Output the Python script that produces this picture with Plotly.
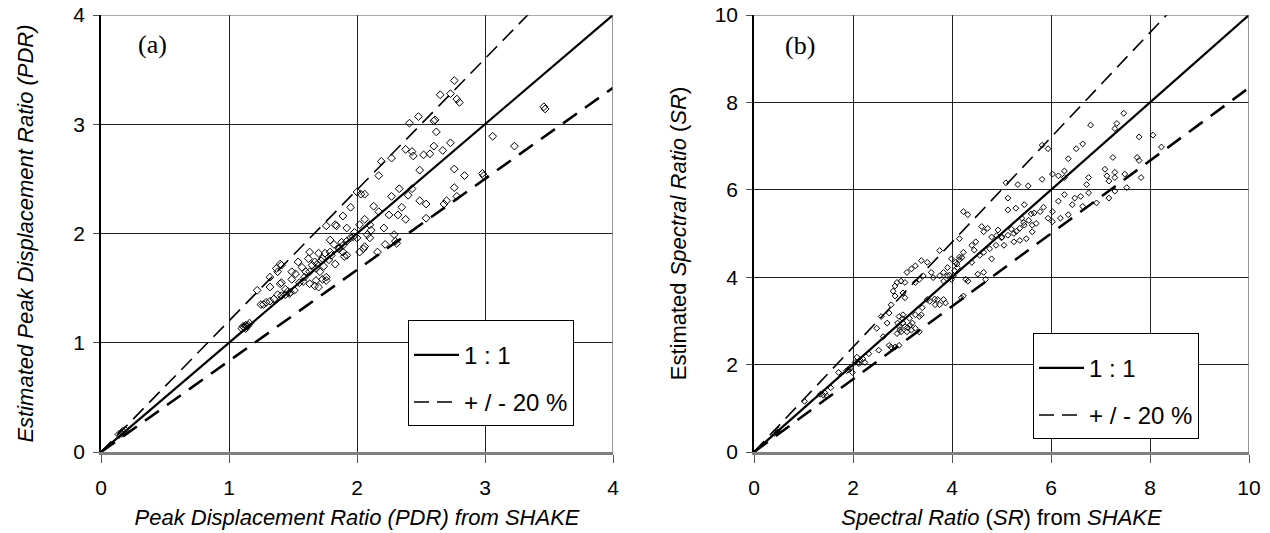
import plotly.graph_objects as go

# ---------------- data: panel (a) PDR ----------------
pdr_shake = [2.76, 2.65, 2.73, 2.78, 2.80, 2.41, 2.48, 2.60, 2.61, 2.62, 2.73, 3.46, 3.47, 3.06, 3.23,
             2.38, 2.43, 2.44, 2.52, 2.57, 2.60, 2.67, 2.19, 2.27, 2.17, 2.49, 2.76, 2.84, 2.98, 2.99,
             2.00, 2.03, 2.06, 2.33, 2.43, 2.40, 2.27, 2.49, 2.54, 2.70, 2.68, 2.76, 2.78,
             1.95, 2.13, 2.17, 2.35, 2.25, 2.32, 2.38, 2.54, 2.21, 2.29, 2.22, 2.30, 2.31, 2.16,
             1.89, 1.76, 1.83, 1.84, 1.92, 2.02, 2.06, 2.10, 2.11, 2.08, 2.00, 1.95, 1.92, 1.89,
             1.79, 1.86, 1.89, 1.90, 1.92, 2.02, 2.05, 2.06, 2.10, 1.79, 1.75, 1.73, 1.70, 1.83,
             1.63, 1.62, 1.67, 1.65, 1.68, 1.63, 1.54, 1.57, 1.60, 1.59, 1.52, 1.49, 1.49,
             1.41, 1.40, 1.37, 1.38, 1.32, 1.41, 1.40, 1.32, 1.22, 1.63, 1.67, 1.68, 1.73, 1.76,
             1.76, 1.70, 1.44, 1.48, 1.51, 1.44, 1.41, 1.38, 1.35, 1.32, 1.29, 1.27, 1.25,
             1.13, 1.11, 1.13, 1.14, 1.10, 1.16, 1.12, 1.15, 0.17, 0.16, 0.14, 0.19,
             1.80, 1.82, 1.86, 1.88, 1.97, 1.98, 1.72, 1.74, 1.78, 1.71, 1.69, 1.55, 1.58, 1.46, 1.47]
pdr_est = [3.40, 3.27, 3.28, 3.23, 3.20, 3.01, 3.07, 3.03, 3.04, 2.93, 2.83, 3.16, 3.14, 2.89, 2.80,
           2.77, 2.75, 2.71, 2.72, 2.73, 2.80, 2.76, 2.66, 2.69, 2.53, 2.58, 2.59, 2.53, 2.55, 2.53,
           2.38, 2.36, 2.36, 2.41, 2.41, 2.35, 2.34, 2.30, 2.27, 2.30, 2.27, 2.42, 2.34,
           2.24, 2.25, 2.20, 2.24, 2.17, 2.17, 2.13, 2.14, 2.05, 1.99, 1.90, 1.93, 1.91, 1.83,
           2.16, 2.07, 2.08, 2.07, 2.05, 2.08, 2.13, 2.08, 2.03, 1.99, 1.96, 1.96, 1.93, 1.89,
           1.94, 1.86, 1.83, 1.79, 1.80, 1.83, 1.86, 1.88, 1.96, 1.83, 1.82, 1.77, 1.82, 1.72,
           1.83, 1.77, 1.74, 1.71, 1.68, 1.65, 1.74, 1.69, 1.65, 1.60, 1.63, 1.65, 1.58,
           1.71, 1.72, 1.68, 1.65, 1.60, 1.55, 1.54, 1.51, 1.48, 1.54, 1.52, 1.57, 1.58, 1.57,
           1.60, 1.51, 1.49, 1.46, 1.48, 1.44, 1.43, 1.44, 1.40, 1.38, 1.37, 1.35, 1.35,
           1.16, 1.15, 1.13, 1.15, 1.13, 1.18, 1.14, 1.16, 0.19, 0.17, 0.16, 0.20,
           1.80, 1.90, 1.87, 1.92, 1.97, 2.01, 1.75, 1.70, 1.76, 1.65, 1.72, 1.55, 1.56, 1.47, 1.45]

# ---------------- data: panel (b) SR ----------------
sr_shake = [7.47, 7.33, 7.29, 6.80, 6.64, 6.51, 5.94, 5.82, 6.35, 6.03, 6.15, 6.27, 6.27, 5.82,
            7.78, 8.06, 8.23, 7.25, 7.74, 7.78, 7.82, 7.09, 7.13, 7.29, 7.29, 7.17, 7.49, 7.53, 7.29, 7.17,
            6.76, 6.72, 6.76, 6.60, 6.92, 6.64, 6.27, 6.15, 6.48, 6.43, 6.35, 6.19, 6.03, 6.03, 5.94,
            5.78, 5.66, 5.46, 5.29, 5.13, 5.09, 5.33, 5.54, 5.13, 4.23, 4.32, 4.60, 4.64, 4.72, 4.80,
            4.93, 5.01, 5.13, 5.25, 5.37, 5.46, 5.41, 5.62, 5.62, 5.70, 5.50, 5.37, 5.25, 5.05, 4.89,
            4.76, 4.64, 4.48, 4.40, 4.15, 4.23, 4.56, 4.40, 4.80, 4.64, 4.52, 4.68, 4.15, 4.07, 4.11,
            3.99, 3.91, 3.83, 3.75, 3.50, 3.38, 3.26, 3.18, 3.09, 3.05, 2.97, 2.89, 2.85, 2.81, 2.85,
            3.01, 3.05, 3.26, 3.34, 3.42, 3.58, 3.62, 3.75, 3.91, 3.83, 3.99, 4.03, 4.32, 4.28,
            3.50, 3.71, 3.83, 3.87, 3.66, 3.75, 4.19, 4.23, 2.77, 2.73, 2.93, 3.01, 3.14, 3.26, 3.34,
            3.38, 3.01, 2.93, 3.05, 3.09, 3.18, 3.26, 3.34, 2.89, 2.97, 2.69, 2.57, 2.48, 2.61, 2.73,
            2.77, 2.85, 2.93, 2.52, 2.32, 2.20, 2.08, 2.04, 1.95, 1.87, 1.99, 2.12, 2.24, 1.71, 1.43,
            1.34, 1.47, 1.55, 1.02, 0.49, 0.45, 0.41,
            4.05, 4.10, 4.15, 3.95, 4.20, 4.45, 4.90, 5.00, 5.20, 5.30, 5.45, 5.55, 5.60, 5.85, 3.10,
            3.20, 3.15, 2.95, 3.00, 2.90, 3.40, 3.55, 3.65, 2.10, 2.15, 1.90, 1.40, 0.47]
sr_est = [7.75, 7.52, 7.40, 7.48, 7.05, 6.94, 6.94, 7.02, 6.71, 6.36, 6.32, 6.43, 6.28, 6.24,
          7.21, 7.25, 6.98, 6.74, 6.74, 6.67, 6.28, 6.47, 6.32, 6.40, 6.28, 6.20, 6.36, 6.05, 5.97, 5.81,
          6.28, 6.12, 5.93, 5.85, 5.70, 5.62, 5.89, 5.74, 5.81, 5.66, 5.43, 5.35, 5.50, 5.27, 5.35,
          5.50, 5.47, 5.66, 5.58, 5.54, 6.16, 6.12, 6.09, 5.81, 5.50, 5.43, 5.16, 5.04, 5.12, 4.92,
          5.08, 4.92, 4.96, 5.00, 5.12, 5.19, 5.35, 5.19, 5.04, 5.23, 4.88, 4.84, 4.81, 4.73, 4.73,
          4.65, 4.57, 4.81, 4.73, 4.88, 4.57, 4.50, 4.34, 4.42, 4.11, 4.07, 3.95, 4.46, 4.34, 4.22,
          4.42, 4.22, 4.11, 4.61, 4.34, 4.38, 4.26, 4.19, 4.11, 3.88, 3.91, 3.88, 3.80, 3.68, 3.57,
          3.64, 3.53, 3.88, 3.95, 4.03, 4.11, 3.99, 4.03, 4.03, 3.91, 3.95, 4.03, 3.91, 3.95,
          3.49, 3.49, 3.49, 3.41, 3.37, 3.37, 3.53, 3.57, 3.37, 3.18, 3.10, 3.14, 3.06, 3.14, 3.10,
          3.14, 2.95, 2.87, 2.87, 2.75, 2.79, 2.83, 2.75, 2.71, 2.75, 2.95, 3.10, 2.83, 2.64, 2.44,
          2.40, 2.40, 2.44, 2.33, 2.25, 2.13, 2.17, 2.05, 1.94, 1.86, 1.82, 2.02, 2.05, 1.82, 1.36,
          1.32, 1.28, 1.47, 1.16, 0.50, 0.47, 0.43,
          4.15, 4.30, 4.40, 4.05, 4.45, 4.62, 4.95, 4.90, 5.10, 5.05, 5.25, 5.30, 5.45, 5.60, 2.85,
          2.95, 2.90, 2.80, 3.05, 2.95, 3.30, 3.45, 3.50, 2.05, 2.10, 1.88, 1.30, 0.45]

# reference lines
a_line_x = [0, 4]
b_line_x = [0, 10]
ratio_upper = 1.2
ratio_lower = 1 / 1.2

a_ticks = [0, 1, 2, 3, 4]
b_ticks = [0, 2, 4, 6, 8, 10]

FONT = "Liberation Sans, Arial, sans-serif"

# full window figure (page body margin removed in post_script)
W, H = 1270, 533


def fx(px):
    return px / W


def fy(py):
    return (H - py) / H


fig = go.Figure()


def add_panel(xs, ys, line_x, xa, ya, legend, msize):
    fig.add_trace(go.Scatter(x=xs, y=ys, mode="markers", xaxis=xa, yaxis=ya,
                             marker=dict(symbol="diamond-open", size=msize, color="black",
                                         line=dict(width=1, color="black")),
                             showlegend=False, cliponaxis=False))
    fig.add_trace(go.Scatter(x=line_x, y=line_x, mode="lines", xaxis=xa, yaxis=ya,
                             line=dict(color="black", width=2.2), name="1 : 1",
                             legend=legend, legendgroup="a"))
    fig.add_trace(go.Scatter(x=line_x, y=[v * ratio_upper for v in line_x], mode="lines",
                             xaxis=xa, yaxis=ya,
                             line=dict(color="black", width=1.6, dash="15px,8px"),
                             name="+ / - 20 %", legend=legend, legendgroup="b"))
    fig.add_trace(go.Scatter(x=line_x, y=[v * ratio_lower for v in line_x], mode="lines",
                             xaxis=xa, yaxis=ya,
                             line=dict(color="black", width=2.6, dash="17px,10px"),
                             showlegend=False))


add_panel(pdr_shake, pdr_est, a_line_x, "x", "y", "legend", 6)
add_panel(sr_shake, sr_est, b_line_x, "x2", "y2", "legend2", 4.5)

ydom = [fy(452), fy(15)]
common_x = dict(showgrid=True, gridcolor="#222", gridwidth=1, zeroline=False,
                showline=True, linecolor="#808080", linewidth=3,
                ticks="outside", ticklen=8, tickcolor="#555", tickwidth=1,
                tickfont=dict(family=FONT, size=21, color="black"),
                ticklabelstandoff=7, ticklabeloverflow="allow", automargin=False)
common_y = dict(showgrid=True, gridcolor="#222", gridwidth=1, zeroline=False,
                showline=True, linecolor="black", linewidth=1.5,
                ticks="outside", ticklen=6, tickcolor="#555", tickwidth=1,
                tickfont=dict(family=FONT, size=21, color="black"),
                ticklabelstandoff=4, ticklabeloverflow="allow", automargin=False)

legend_common = dict(xanchor="left", yanchor="top",
                     bordercolor="black", borderwidth=1, bgcolor="white",
                     font=dict(family=FONT, size=24, color="black"), tracegroupgap=13,
                     itemwidth=45,
                     title=dict(text=" ", font=dict(family=FONT, size=9)))

fig.update_layout(
    width=W, height=H,
    margin=dict(l=0, r=0, t=0, b=0),
    paper_bgcolor="white", plot_bgcolor="white",
    font=dict(family=FONT, color="black"),
    xaxis=dict(common_x, domain=[fx(101), fx(613)], range=[0, 4], tickvals=a_ticks,
               anchor="y",
               title=dict(text="<i>Peak Displacement Ratio (PDR) from SHAKE</i>",
                          font=dict(family=FONT, size=22), standoff=12)),
    yaxis=dict(common_y, domain=ydom, range=[0, 4], tickvals=a_ticks, anchor="x",
               title=dict(text="<i>Estimated Peak Displacement Ratio (PDR)</i>",
                          font=dict(family=FONT, size=22), standoff=34)),
    xaxis2=dict(common_x, domain=[fx(754), fx(1249)], range=[0, 10], tickvals=b_ticks,
                anchor="y2",
                title=dict(text="<i>Spectral Ratio</i> (<i>SR</i>) from <i>SHAKE</i>",
                           font=dict(family=FONT, size=22), standoff=12)),
    yaxis2=dict(common_y, domain=ydom, range=[0, 10], tickvals=b_ticks, anchor="x2",
                title=dict(text="Estimated <i>Spectral Ratio</i> (<i>SR</i>)",
                           font=dict(family=FONT, size=22), standoff=22)),
    legend=dict(legend_common, x=fx(408), y=fy(320)),
    legend2=dict(legend_common, x=fx(1033), y=fy(333)),
    annotations=[
        dict(text="(a)", x=0.40, y=3.73, xref="x", yref="y", showarrow=False,
             font=dict(family="Liberation Serif, Times New Roman, serif", size=26)),
        dict(text="(b)", x=0.93, y=9.3, xref="x2", yref="y2", showarrow=False,
             font=dict(family="Liberation Serif, Times New Roman, serif", size=26)),
    ],
    shapes=[
        dict(type="line", xref="x", yref="y", x0=0, x1=4, y0=4, y1=4,
             line=dict(color="#555", width=1)),
        dict(type="line", xref="x", yref="y", x0=4, x1=4, y0=0, y1=4,
             line=dict(color="#777", width=1.5)),
        dict(type="line", xref="x2", yref="y2", x0=0, x1=10, y0=10, y1=10,
             line=dict(color="#555", width=1)),
        dict(type="line", xref="x2", yref="y2", x0=10, x1=10, y0=0, y1=10,
             line=dict(color="#777", width=1.5)),
    ],
)

fig.write_html("out.html",
               config={"displayModeBar": False},
               post_script="document.body.style.margin='0px';"
                           "document.body.style.overflow='hidden';")
